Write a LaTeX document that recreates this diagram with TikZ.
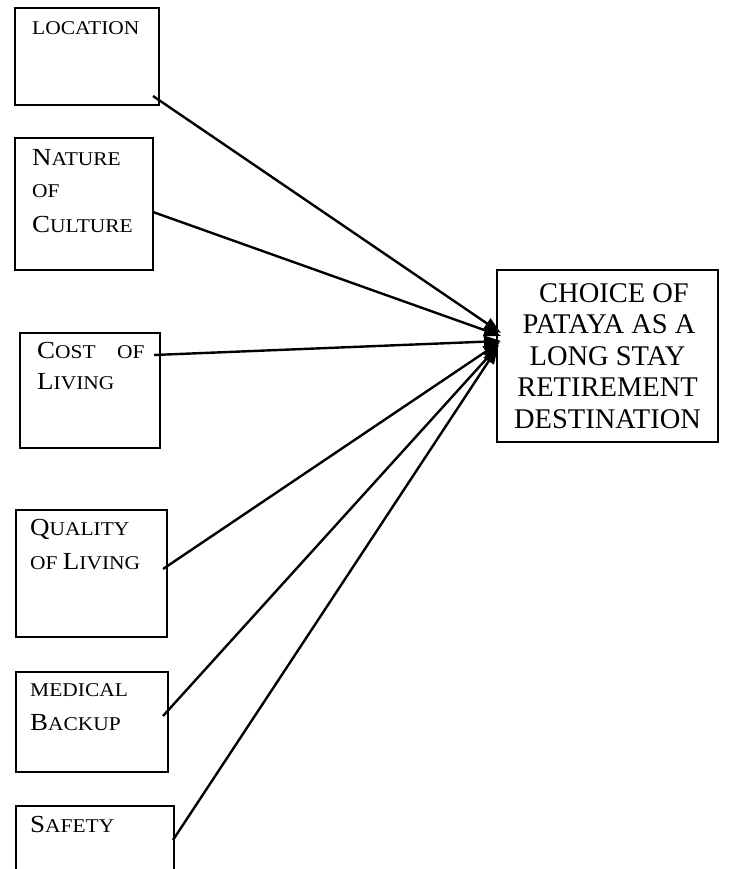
\documentclass[tikz,border=0pt]{standalone}
\usepackage{fontspec}
\setmainfont{Liberation Serif}
\newfontfamily\leftfont[FakeStretch=1.1]{Liberation Serif}
\usetikzlibrary{arrows.meta}
\newcommand\mysc[1]{{\leftfont\fontsize{19.5}{21}\selectfont #1}}
\newcommand\mybig[1]{{\leftfont\fontsize{24.5}{28}\selectfont #1}}
\newcommand\mygoal{\fontsize{28.5}{32}\selectfont}
\begin{document}
\begin{tikzpicture}[x=1pt,y=-1pt,
  box/.style={draw,line width=2.4pt,inner sep=0pt,outer sep=0pt},
  lbl/.style={inner sep=0pt,anchor=base west},
  glbl/.style={inner sep=0pt,anchor=base,font=\mygoal},
  arr/.style={line width=2.4pt,-{Triangle[length=17pt,width=12pt]}}]
\useasboundingbox (0,0) rectangle (730,869);
% boxes
\node[box,minimum width=144pt,minimum height=97pt] (loc) at (87,56.5) {};
\node[box,minimum width=138pt,minimum height=132pt] (nat) at (84,204) {};
\node[box,minimum width=140pt,minimum height=115pt] (cost) at (90,390.5) {};
\node[box,minimum width=151pt,minimum height=127pt] (qual) at (91.5,573.5) {};
\node[box,minimum width=152pt,minimum height=100pt] (med) at (92,722) {};
\node[box,minimum width=158pt,minimum height=140pt] (safe) at (95,876) {};
\node[box,minimum width=221pt,minimum height=172pt] (goal) at (607.5,356) {};
% labels
\node[lbl] (loct) at (32,35) {\mysc{LOCATION}};
\node[lbl] (natt1) at (32,165) {\mybig{N}\mysc{ATURE}};
\node[lbl] (natt2) at (32,197) {\mysc{OF}};
\node[lbl] (natt3) at (32,232) {\mybig{C}\mysc{ULTURE}};
\node[lbl] (costt1) at (37,358) {\mybig{C}\mysc{OST}};
\node[lbl] (costt2) at (117,358) {\mysc{OF}};
\node[lbl] (costt3) at (37,389) {\mybig{L}\mysc{IVING}};
\node[lbl] (qualt1) at (30,535) {\mybig{Q}\mysc{UALITY}};
\node[lbl] (qualt2) at (30,569) {\mysc{OF }\mybig{L}\mysc{IVING}};
\node[lbl] (medt1) at (30,696) {\mysc{MEDICAL}};
\node[lbl] (medt2) at (30,730) {\mybig{B}\mysc{ACKUP}};
\node[lbl] (safet) at (30,832) {\mybig{S}\mysc{AFETY}};
\node[glbl] (g1) at (614,302) {CHOICE OF};
\node[glbl] (g2) at (609,333.5) {PATAYA AS A};
\node[glbl] (g3) at (607.5,365) {LONG STAY};
\node[glbl] (g4) at (607.5,396.5) {RETIREMENT};
\node[glbl] (g5) at (607.5,428) {DESTINATION};
% connector ends
\coordinate (s1) at (153,96);
\coordinate (s2) at (153,212);
\coordinate (s3) at (154,355);
\coordinate (s4) at (163,569);
\coordinate (s5) at (163,716);
\coordinate (s6) at (173,840);
\coordinate (t1) at (501,333);
\coordinate (t2) at (501,336);
\coordinate (t3) at (501,341);
\coordinate (t4) at (500,342);
\coordinate (t5) at (499,345);
\coordinate (t6) at (498,347);
\draw[arr] (s1) -- (t1);
\draw[arr] (s2) -- (t2);
\draw[arr] (s3) -- (t3);
\draw[arr] (s4) -- (t4);
\draw[arr] (s5) -- (t5);
\draw[arr] (s6) -- (t6);
\end{tikzpicture}
\end{document}
